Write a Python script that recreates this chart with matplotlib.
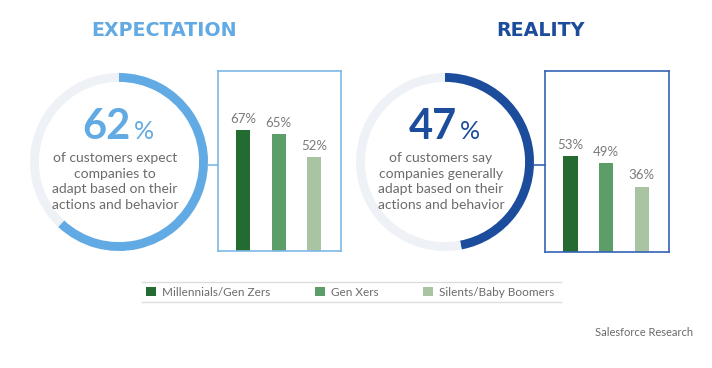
import matplotlib.pyplot as plt
from matplotlib.lines import Line2D

plt.rcParams["font.family"] = ["Lato", "DejaVu Sans"]

W, H = 712, 368

groups = ["Millennials/Gen Zers", "Gen Xers", "Silents/Baby Boomers"]
expect_total = 62
reality_total = 47
expect_values = [67, 65, 52]
reality_values = [53, 49, 36]
expect_text = ["of customers expect", "companies to", "adapt based on their", "actions and behavior"]
reality_text = ["of customers say", "companies generally", "adapt based on their", "actions and behavior"]

bar_colors = ["#246b31", "#5c9e68", "#a9c4a3"]
light_blue = "#62aae3"
dark_blue = "#1c4c9c"
track = "#eef1f6"
text_gray = "#6b6b6b"


def fx(px):
    return px / W


def fy(py):
    return 1 - py / H


def draw_donut(cx, cy, r, total, color):
    ax = fig.add_axes([fx(cx - r), fy(cy + r), 2 * r / W, 2 * r / H])
    ax.pie([total, 100 - total], colors=[color, track], startangle=90, counterclock=False,
           radius=1.0, wedgeprops=dict(width=0.1, linewidth=0))
    ax.set_aspect("equal")
    ax.set_xlim(-1, 1)
    ax.set_ylim(-1, 1)
    ax.axis("off")


def draw_bars(x0, x1, y0, y1, values, edge):
    ax = fig.add_axes([fx(x0), fy(y1), (x1 - x0) / W, (y1 - y0) / H])
    xs = range(len(values))
    ax.bar(xs, values, width=0.4, color=bar_colors)
    for x, v in zip(xs, values):
        ax.text(x, v + 3, f"{v}%", ha="center", va="bottom", fontsize=9.5, color="#7a7a7a")
    ax.set_xlim(-0.72, 2.77)
    ax.set_ylim(0, 100)
    ax.set_xticks([])
    ax.set_yticks([])
    for s in ax.spines.values():
        s.set_color(edge)
        s.set_linewidth(1.2)
    return ax


def draw_center_text(cx, total, color, lines):
    fig.text(fx(cx + 12), fy(139), f"{total}", ha="right", va="baseline",
             fontsize=30, fontweight="bold", color=color)
    fig.text(fx(cx + 15), fy(139), "%", ha="left", va="baseline",
             fontsize=18, color=color)
    for i, line in enumerate(lines):
        fig.text(fx(cx - 4), fy(158 + i * 15.7), line, ha="center", va="center",
                 fontsize=10, color=text_gray)


fig = plt.figure(figsize=(W / 100, H / 100), dpi=100)

fig.text(fx(164), fy(31), "EXPECTATION", ha="center", va="center", family="DejaVu Sans",
         fontsize=13.7, fontweight="bold", color=light_blue)
fig.text(fx(541), fy(31), "REALITY", ha="center", va="center", family="DejaVu Sans",
         fontsize=13.7, fontweight="bold", color=dark_blue)

draw_donut(119, 162, 89, expect_total, light_blue)
draw_donut(445, 162, 89, reality_total, dark_blue)

left_ax = draw_bars(218, 341, 71, 251, expect_values, "#7db9e6")
draw_bars(545, 669, 71, 252, reality_values, "#3464b4")

fig.add_artist(Line2D([fx(208), fx(218)], [fy(165), fy(165)], color="#7db9e6", lw=1.2))
fig.add_artist(Line2D([fx(534), fx(545)], [fy(165), fy(165)], color="#3464b4", lw=1.2))

draw_center_text(119, expect_total, light_blue, expect_text)
draw_center_text(445, reality_total, dark_blue, reality_text)

# legend band
for yy in (282, 302):
    fig.add_artist(Line2D([fx(142), fx(561)], [fy(yy), fy(yy)], color="#dcdcdc", lw=1))
fig.legend(left_ax.patches, groups, loc="center left", bbox_to_anchor=(fx(140), fy(292)),
           ncol=3, frameon=False, fontsize=8.5, handlelength=0.85, handleheight=0.85,
           handletextpad=0.5, columnspacing=3.8, labelcolor=text_gray, borderpad=0)

fig.text(fx(693), fy(333), "Salesforce Research", ha="right", va="center",
         fontsize=8, color=text_gray)

fig.savefig("out.png", dpi=100, facecolor="white")
